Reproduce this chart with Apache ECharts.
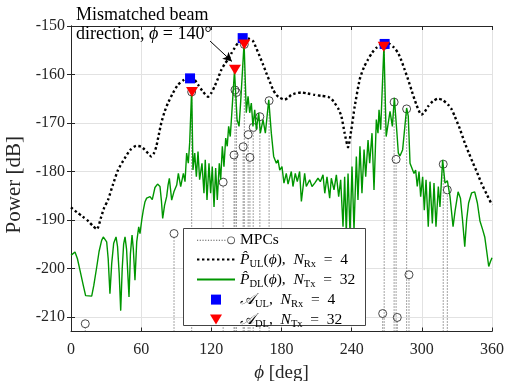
<!DOCTYPE html>
<html>
<head>
<meta charset="utf-8">
<script src="https://cdn.jsdelivr.net/npm/echarts@6/dist/echarts.min.js"></script>
<style>html,body{margin:0;padding:0;background:#fff}#chart{width:508px;height:381px}</style>
</head>
<body>
<div id="chart"></div>
<script>
// axis ranges / ticks
const xMin = 0, xMax = 360;
const yMin = -213, yMax = -150;
const xTicks = [0, 60, 120, 180, 240, 300, 360];
const yTicks = [-210, -200, -190, -180, -170, -160, -150];

// uplink angular power, N_Rx = 4  [deg, dB]
const ulPattern = [
  [0,-187.4],[5,-188.4],[10,-189.3],[15,-190.3],[19,-191.3],[22.2,-191.9],[25.9,-189.3],[28.5,-187.4],
  [31.6,-185.9],[36,-182.6],[40.2,-179.7],[45.9,-177.3],[50.5,-175.6],[55.9,-174.7],[60,-174.9],[63,-175.5],
  [66,-176.3],[68.7,-176.9],[71,-176.2],[73,-174.8],[75,-172.5],[77.2,-170],[80,-167.7],[82.9,-165.9],
  [87,-163.9],[91.5,-162.1],[96,-161.2],[99,-160.7],[102.5,-160.5],[105.5,-161],[108.6,-162.1],[113,-163.6],
  [117.2,-164.6],[120,-163.8],[122.9,-162.4],[125.7,-160.8],[128.6,-159],[131.5,-157.8],[134.3,-156.9],
  [137,-155.7],[140,-154.5],[143,-153.4],[145.5,-152.8],[148.5,-152.4],[152,-152.6],[155.6,-153.1],
  [158.5,-154.6],[161.3,-156.2],[164,-157.8],[167,-159.7],[170,-161.5],[172.7,-163.1],[175.5,-164.2],
  [178.5,-164.8],[182.7,-165.2],[185.6,-164.8],[188.4,-164.2],[192,-163.9],[197,-163.7],[202,-163.9],
  [208.4,-164.2],[214,-164.4],[219.8,-164.6],[223,-165.1],[225.5,-165.9],[228.5,-167],[231.2,-168.6],
  [234,-172.1],[236.9,-175],[239.7,-171.4],[242.6,-166.6],[246.9,-161],[250.5,-158.5],[254,-156.9],
  [257.5,-155.5],[261.1,-154.5],[264.5,-153.8],[268.2,-153.4],[272,-153.6],[276,-154.4],[279.6,-155.5],
  [282.5,-157.1],[285.3,-159],[288.2,-161],[291,-163.1],[295.3,-166.2],[299.6,-168.3],[302.5,-167.7],
  [305.3,-166.6],[309.5,-165.5],[313.8,-165],[318,-165.3],[322.4,-166.2],[325.5,-167.2],[328.1,-168.6],
  [332.5,-171.2],[336.7,-174.1],[340.2,-176.2],[343.8,-178.3],[347.4,-180.3],[350.9,-182.4],[355.5,-184.7],
  [360,-186.9]
];

// downlink angular power, N_Tx = 32  [deg, dB]
const dlPattern = [
  [0,-197.3],[1.7,-196.9],[3.4,-196.6],[5.5,-198],[7.7,-200.4],[10.5,-203.5],[12.5,-205.6],[14,-206],
  [17.7,-205.7],[19.5,-203.5],[22,-199.7],[24,-196.5],[26.2,-194.2],[27.6,-193.5],[29,-193.6],[30.5,-194.5],
  [31.8,-198],[33.3,-205.2],[34.8,-199],[36.5,-194.8],[38.5,-193.5],[39.8,-195.5],[41.2,-201],[42.5,-208.7],
  [43.8,-200],[45,-195],[46.2,-193.5],[47.5,-196],[49.6,-205.9],[50.8,-197],[52.2,-193.1],[53.3,-196],
  [54.7,-202.4],[56.2,-194.5],[57.9,-191.4],[59,-192.8],[60.5,-190],[61.8,-188],[63.2,-186.3],[64.7,-185.5],
  [66,-185.6],[67.6,-185.2],[69.5,-185.8],[71.8,-183.3],[74,-182.6],[76.1,-183.1],[77.3,-186],[78.4,-189.7],
  [80,-187],[81.8,-185.2],[83,-182.8],[84.1,-181.4],[86.1,-185.9],[88,-184.2],[90.4,-182.8],[91.8,-180.4],
  [93.8,-183.1],[96.1,-180.4],[97.5,-182.1],[98.9,-176.2],[100.3,-178.3],[101.5,-174],[103.2,-163],
  [104.3,-179.7],[105.8,-176.2],[107.2,-181.1],[108.6,-175.9],[110,-181.7],[112,-178.3],[113.7,-184.5],
  [114.8,-177.6],[116.3,-185.9],[118,-178.3],[119.4,-184.5],[120.8,-179],[122.3,-187.3],[123.7,-179.3],
  [125.1,-185.9],[126.8,-178.3],[128,-181.7],[129.4,-174.8],[130.8,-179],[132.3,-173.1],[133.6,-174.8],
  [134.8,-170.7],[136.2,-172.8],[137.5,-168],[139.8,-159.2],[142,-169.3],[143.7,-170.7],[145,-166],
  [148,-153.5],[149.9,-167.9],[151.4,-164.5],[152.8,-167.9],[154.2,-165.9],[155.6,-170.7],[157.1,-167.3],
  [158.5,-171.4],[160.5,-167.9],[161.9,-172.1],[164.2,-169.3],[166.2,-172.1],[169.1,-165.2],[171.3,-172.1],
  [173.3,-176.9],[175.6,-178.3],[177,-177.6],[178.5,-179.7],[180.4,-179],[182.1,-182.4],[184.1,-180.4],
  [185.6,-182.6],[188.4,-180],[189.8,-183.1],[191.8,-180.4],[193.5,-182.1],[195.5,-180],[197,-186.2],
  [199.8,-180.4],[201.2,-183.1],[204.1,-181.7],[206.1,-183.1],[208.4,-182.4],[211.2,-181.4],[213.2,-182.1],
  [215.5,-180.7],[217,-184.5],[218.9,-181.1],[221.2,-185.5],[222.6,-181.4],[224.9,-183.8],[226.9,-180.7],
  [228.9,-185.2],[230.6,-181.7],[232.6,-191.4],[234,-181.1],[235.4,-192.8],[236.9,-180.4],[238.6,-192.8],
  [240.3,-179],[242,-192.1],[244,-176.9],[245.4,-185.9],[247.1,-174.8],[248.8,-184.5],[250.6,-175.5],
  [252,-181.1],[254,-173.5],[255.4,-178.3],[257.4,-172.1],[259.1,-183.8],[261.1,-169.3],[262.5,-172.1],
  [263.4,-167.3],[264.8,-171.4],[267.6,-154],[269.5,-172.8],[272.8,-167.6],[274.8,-170.7],[276.5,-164.8],
  [278.5,-171.4],[279.9,-176.2],[281.3,-176.8],[283.6,-175.5],[287,-166.9],[288.4,-168.6],[289.9,-178.3],
  [291.3,-178.6],[293.3,-180.4],[294.7,-179.7],[296.1,-183.1],[297.6,-180],[299,-185.2],[300.7,-181.1],
  [302.1,-188],[303.6,-181.7],[305.5,-191.4],[307,-182.1],[309,-190.7],[310.4,-182.4],[312.1,-191.4],
  [314.1,-183.1],[315.5,-187.3],[317.8,-177.6],[319.8,-182.4],[321.8,-181.9],[324.1,-185.2],[326.7,-191.4],
  [328.5,-188],[331,-184.2],[333,-185.5],[334.8,-190],[336.7,-195.5],[338.3,-190],[340,-186.5],[342.6,-184.4],
  [345.2,-184.2],[347.5,-186.5],[349.7,-190.2],[352,-192],[353.8,-193.5],[355.5,-196.5],[357.2,-199.6],
  [358.6,-198.6],[360,-197.8]
];

// multipath components [deg, dB]
const mpcs = [
  [12.2,-211.4],[88.1,-192.8],[103.2,-163.6],[130.1,-182.2],[139.4,-176.6],[140.2,-163.2],[141.5,-163.7],
  [147.2,-174.9],[148.2,-153.8],[151.5,-172.4],[153,-177.1],[155.8,-170.9],[161.5,-168.7],[169.4,-165.4],
  [266.5,-209.3],[267.8,-154],[276.3,-165.7],[278,-177.5],[279,-210.1],[287,-167.1],[289,-201.3],
  [318.3,-178.5],[321.8,-183.8]
];

const ulPeaks = [[101.8,-160.8],[146.8,-152.5],[268.2,-153.7]];
const dlPeaks = [[103.5,-163.6],[140.2,-159],[148.2,-153.8],[267.4,-154.3]];

// annotation arrow (deg, dB)
const arrowFrom = [118.9,-153.1];
const arrowTo = [137.6,-157.3];

const serif = 'Liberation Serif';
const axisColor = '#262626';
const sp = '\u2002';

const legendText = {
    MPCs: 'MPCs',
    PUL: `{it|P\u0302}{sub|UL}({it|ϕ}),${sp}{it|N}{sub|Rx}${sp}=${sp}4`,
    PDL: `{it|P\u0302}{sub|DL}({it|ϕ}),${sp}{it|N}{sub|Tx}${sp}=${sp}32`,
    AUL: `{it|𝒜}{sub|UL},${sp}{it|N}{sub|Rx}${sp}=${sp}4`,
    ADL: `{it|𝒜}{sub|DL},${sp}{it|N}{sub|Tx}${sp}=${sp}32`
};

const mpcIcon = 'path://' +
    [0,2.8,5.6,8.4,11.2,14,16.8,19.6,22.4,25.2,28].map(x => `M${x},3.5h1.2v1h-1.2Z`).join('') +
    'M31,4A4,4 0 1,0 39,4A4,4 0 1,0 31,4Z M31.9,4A3.1,3.1 0 1,1 38.1,4A3.1,3.1 0 1,1 31.9,4Z';

let myChart = echarts.init(document.getElementById('chart'));
myChart.setOption({
    animation: false,
    grid: {left: 71, right: 16, top: 26, bottom: 49.5, containLabel: false, outerBoundsMode: 'none'},
    xAxis: [
        {
            type: 'value', min: xMin, max: xMax, interval: 60,
            axisLine: {lineStyle: {color: axisColor, width: 1}},
            axisTick: {inside: true, length: 4, lineStyle: {color: axisColor}},
            axisLabel: {fontFamily: serif, fontSize: 16, color: axisColor, margin: 10},
            splitLine: {show: true, lineStyle: {color: '#e2e2e2'}},
            name: '{it|ϕ} [deg]', nameLocation: 'middle', nameGap: 32,
            nameTextStyle: {fontFamily: serif, fontSize: 19, color: axisColor,
                rich: {it: {fontStyle: 'italic', fontFamily: serif, fontSize: 19}}}
        },
        {
            type: 'value', position: 'top', min: xMin, max: xMax, interval: 60,
            axisLine: {lineStyle: {color: axisColor, width: 1}},
            axisTick: {inside: true, length: 4, lineStyle: {color: axisColor}},
            axisLabel: {show: false}, splitLine: {show: false}
        }
    ],
    yAxis: [
        {
            type: 'value', min: yMin, max: yMax, splitNumber: 6,
            axisLine: {show: true, lineStyle: {color: axisColor, width: 1}},
            axisTick: {show: true, inside: true, length: 4, customValues: yTicks, lineStyle: {color: axisColor}},
            axisLabel: {customValues: yTicks, fontFamily: serif, fontSize: 16, color: axisColor, margin: 6},
            splitLine: {show: true, lineStyle: {color: '#e2e2e2'}},
            name: 'Power [dB]', nameLocation: 'middle', nameGap: 41,
            nameTextStyle: {fontFamily: serif, fontSize: 21, color: axisColor, padding: [0, 12, 0, 0]}
        },
        {
            type: 'value', position: 'right', min: yMin, max: yMax, splitNumber: 6,
            axisLine: {show: true, lineStyle: {color: axisColor, width: 1}},
            axisTick: {show: true, inside: true, length: 4, customValues: yTicks, lineStyle: {color: axisColor}},
            axisLabel: {show: false}, splitLine: {show: false}
        }
    ],
    legend: {
        orient: 'vertical', left: 183, top: 228, z: 10,
        padding: [3, 14, 1, 13], itemGap: 0,
        itemWidth: 38, itemHeight: 10, symbolRotate: 0,
        data: [
            {name: 'MPCs', icon: mpcIcon, itemStyle: {color: '#555', borderWidth: 0}},
            {name: 'PUL', itemStyle: {opacity: 0}},
            {name: 'PDL', itemStyle: {opacity: 0}},
            {name: 'AUL', icon: 'path://M0,0H10V10H0Z'},
            {name: 'ADL', icon: 'path://M0,0H12L6,10Z'}
        ],
        formatter: name => legendText[name],
        textStyle: {
            fontFamily: serif, fontSize: 15.5, color: '#000', lineHeight: 18.6,
            rich: {
                it: {fontStyle: 'italic', fontFamily: serif, fontSize: 15.5, lineHeight: 18.6},
                sub: {fontFamily: serif, fontSize: 10.5, lineHeight: 18.6, padding: [9, 0, 0, 0]}
            }
        }
    },
    graphic: [
        {
            // legend box
            type: 'rect', z: 9,
            shape: {x: 183.5, y: 228.5, width: 182, height: 97},
            style: {fill: '#fff', stroke: '#444', lineWidth: 1}
        },
        {
            type: 'text', left: 76, top: 6, z: 100,
            style: {
                text: 'Mismatched beam\ndirection, {it|ϕ} = 140°',
                fontFamily: serif, fontSize: 18, lineHeight: 19, fill: '#000',
                rich: {it: {fontStyle: 'italic', fontFamily: serif, fontSize: 18, lineHeight: 19}}
            }
        }
    ],
    series: [
        {
            name: 'MPCs', type: 'custom', data: mpcs, z: 2,
            encode: {x: 0, y: 1},
            itemStyle: {color: '#444'},
            renderItem: (params, api) => {
                const top = api.coord([api.value(0), api.value(1)]);
                const bot = api.coord([api.value(0), yMin]);
                return {
                    type: 'group',
                    children: [
                        {type: 'line', shape: {x1: top[0], y1: bot[1], x2: top[0], y2: top[1] + 4},
                            style: {stroke: '#333', lineWidth: 0.9, lineDash: [1, 2]}},
                        {type: 'circle', shape: {cx: top[0], cy: top[1], r: 4},
                            style: {fill: 'none', stroke: '#333', lineWidth: 0.9}}
                    ]
                };
            }
        },
        {
            name: 'PDL', type: 'line', data: dlPattern, symbol: 'none', z: 2,
            lineStyle: {color: '#009600', width: 1.4},
            itemStyle: {color: '#009600'}
        },
        {
            name: 'PUL', type: 'line', data: ulPattern, symbol: 'none', smooth: 0.2, z: 2,
            lineStyle: {color: '#000', width: 2.4, type: [2.4, 2.6]},
            itemStyle: {color: '#000'},
            markLine: {
                silent: true, symbol: ['none', 'arrow'], symbolSize: [7, 9],
                label: {show: false},
                lineStyle: {color: '#000', width: 1, type: 'solid'},
                data: [[{coord: arrowFrom}, {coord: arrowTo}]]
            }
        },
        {
            name: 'AUL', type: 'scatter', data: ulPeaks, symbol: 'rect', symbolSize: 10, z: 3,
            itemStyle: {color: '#0000ff', opacity: 1}
        },
        {
            name: 'ADL', type: 'scatter', data: dlPeaks, symbol: 'triangle', symbolRotate: 180,
            symbolSize: [12, 10], z: 3,
            itemStyle: {color: '#ff0000', opacity: 1}
        }
    ]
});
</script>
</body>
</html>
